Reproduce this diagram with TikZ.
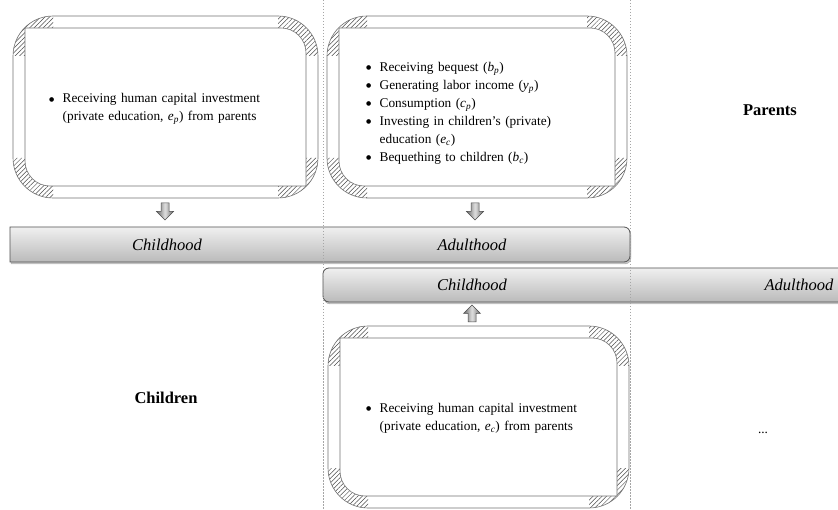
\documentclass[tikz,border=0pt]{standalone}
\usepackage{fontspec}
\setmainfont{Liberation Serif}
\newfontfamily\symfont{DejaVu Sans}
\usetikzlibrary{patterns.meta}
\tikzset{
  hatch/.style={pattern={Lines[angle=45,distance=3.2pt,line width=0.5pt]},pattern color=black!70},
  frameline/.style={draw=black!55,line width=0.6pt},
  barstyle/.style={draw=black!68,line width=0.8pt,top color=black!6,bottom color=black!27},
  barshadow/.style={fill=black,opacity=0.22},
  blockarrow/.style={draw=black!70,line width=0.5pt,left color=black!60,right color=black!60,middle color=black!12},
  barlabel/.style={font=\fontsize{16.5}{19}\selectfont\itshape,inner sep=0pt},
  sidelabel/.style={font=\fontsize{16.5}{19}\selectfont\bfseries,inner sep=0pt},
  itemtext/.style={font=\fontsize{13.3}{18}\selectfont,align=left,anchor=west,inner sep=0pt,text width=#1},
  guide/.style={draw=black!35,line width=0.4pt,dash pattern=on 1.5pt off 1.5pt},
}
\newcommand\bitem[1]{\noindent\hangindent=13.5pt\hangafter=1\makebox[13.5pt][l]{\raisebox{1.3pt}{\symfont\fontsize{6}{6}\selectfont ●}}#1\par}
\newcommand\ivar[2]{\textit{#1}\textsubscript{\textit{#2}}}
% double frame: #1 name, #2 left, #3 top, #4 right, #5 bottom
\newcommand\dframe[5]{%
  \begin{scope}
    \clip[rounded corners=40pt] (#2,#3) rectangle (#4,#5);
    \fill[hatch] (#2,#3) rectangle ++(40,40)
                 (#4,#3) rectangle ++(-40,40)
                 (#2,#5) rectangle ++(40,-40)
                 (#4,#5) rectangle ++(-40,-40);
  \end{scope}
  \draw[frameline,fill=white] ({#2+12},{#3+12}) -- ({#4-37},{#3+12})
     arc[start angle=-90,end angle=0,radius=25] -- ({#4-12},{#5-12})
     -- ({#2+37},{#5-12}) arc[start angle=90,end angle=180,radius=25] -- cycle;
  \draw[frameline,rounded corners=40pt] (#2,#3) rectangle (#4,#5);
  \coordinate (#1) at ({(#2+#4)/2},{(#3+#5)/2});
}
\begin{document}
\begin{tikzpicture}[x=1pt,y=-1pt]
\clip (0,0) rectangle (838,510);
\fill[white] (0,0) rectangle (838,510);

% frames
\dframe{box1}{13}{16}{318}{198}
\dframe{box2}{327}{16}{627}{198}
\dframe{box3}{328}{326}{629}{508}

\node[itemtext=262pt] (t1) at (49,109) {%
  \bitem{Receiving human capital investment\newline (private education, \ivar{e}{p}) from parents}};
\node[itemtext=250pt] (t2) at (366,113) {%
  \bitem{Receiving bequest (\ivar{b}{p})}
  \bitem{Generating labor income (\ivar{y}{p})}
  \bitem{Consumption (\ivar{c}{p})}
  \bitem{Investing in children’s (private)\newline education (\ivar{e}{c})}
  \bitem{Bequething to children (\ivar{b}{c})}};
\node[itemtext=262pt] (t3) at (366,418) {%
  \bitem{Receiving human capital investment\newline (private education, \ivar{e}{c}) from parents}};

% bars
\draw[barshadow] (11,229) -- (625,229) arc[start angle=-90,end angle=0,radius=6] -- (631,258) arc[start angle=0,end angle=90,radius=6] -- (11,264) -- cycle;
\draw[barstyle] (10,227) -- (624,227) arc[start angle=-90,end angle=0,radius=6]
   -- (630,256) arc[start angle=0,end angle=90,radius=6] -- (10,262) -- cycle;
\draw[barshadow] (850,270) -- (330,270) arc[start angle=270,end angle=180,radius=6] -- (324,298) arc[start angle=180,end angle=90,radius=6] -- (850,304) -- cycle;
\draw[barstyle] (850,268) -- (329,268) arc[start angle=270,end angle=180,radius=6]
   -- (323,296) arc[start angle=180,end angle=90,radius=6] -- (850,302) -- cycle;

\node[barlabel] (c1) at (167,245) {Childhood};
\node[barlabel] (a1) at (472,245) {Adulthood};
\node[barlabel] (c2) at (472,285) {Childhood};
\node[barlabel] (a2) at (799,285) {Adulthood};

% block arrows
\coordinate (ar1) at (165,203);
\coordinate (ar2) at (475,203);
\coordinate (ar3) at (472,305);
\draw[blockarrow] (ar1) ++(-4,0) -- ++(8,0) -- ++(0,8.5) -- ++(4.5,0) -- ++(-8.5,8.5) -- ++(-8.5,-8.5) -- ++(4.5,0) -- cycle;
\draw[blockarrow] (ar2) ++(-4,0) -- ++(8,0) -- ++(0,8.5) -- ++(4.5,0) -- ++(-8.5,8.5) -- ++(-8.5,-8.5) -- ++(4.5,0) -- cycle;
\draw[blockarrow] (ar3) -- ++(8.5,8.5) -- ++(-4.5,0) -- ++(0,8.5) -- ++(-8,0) -- ++(0,-8.5) -- ++(-4.5,0) -- cycle;

% side labels
\node[sidelabel] (parents) at (770,110) {Parents};
\node[sidelabel] (children) at (166,398) {Children};
\node[font=\fontsize{13.3}{18}\selectfont] (dots) at (763,433) {...};

% guides
\coordinate (g1t) at (323,0); \coordinate (g1b) at (323,510);
\coordinate (g2t) at (630,0); \coordinate (g2b) at (630,510);
\draw[guide] (g1t) -- (g1b);
\draw[guide] (g2t) -- (g2b);
\end{tikzpicture}
\end{document}
